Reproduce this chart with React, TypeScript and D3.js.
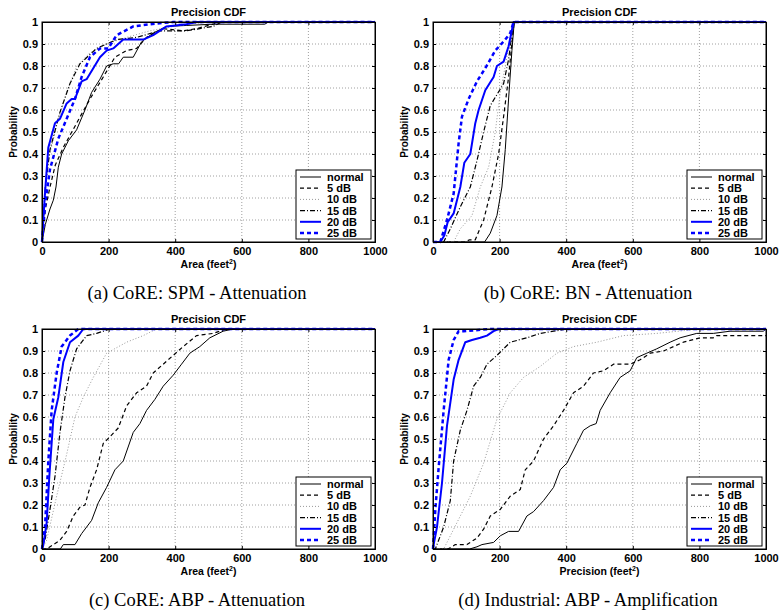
import React, { useEffect, useRef } from "react";
import * as d3 from "d3";

type Pt = [number, number];

// values: [area, probability]
const spmNormal: Pt[] = [[0,0],[10,0.08],[24,0.15],[34,0.19],[42,0.25],[49,0.34],[59,0.4],[79,0.46],[104,0.51],[129,0.6],[149,0.68],[174,0.74],[194,0.8],[214,0.81],[230,0.81],[244,0.84],[274,0.84],[299,0.91],[334,0.95],[374,0.98],[514,0.99],[669,0.99],[680,1],[1000,1]];
const spm5: Pt[] = [[0,0],[10,0.15],[24,0.25],[40,0.35],[64,0.43],[104,0.54],[144,0.65],[184,0.75],[219,0.84],[254,0.87],[284,0.88],[314,0.93],[364,0.97],[424,0.96],[464,0.97],[514,0.99],[530,1],[1000,1]];
const spm10: Pt[] = [[0,0],[14,0.34],[44,0.53],[74,0.68],[104,0.8],[144,0.86],[194,0.9],[254,0.93],[324,0.96],[394,0.98],[500,1],[1000,1]];
const spm15: Pt[] = [[0,0],[10,0.25],[24,0.42],[54,0.59],[84,0.72],[114,0.81],[164,0.88],[224,0.92],[284,0.93],[354,0.96],[434,0.96],[474,0.97],[514,0.98],[540,1],[1000,1]];
const spm20: Pt[] = [[0,0],[8,0.2],[19,0.43],[39,0.54],[54,0.56],[74,0.63],[89,0.65],[99,0.65],[119,0.73],[134,0.74],[154,0.79],[174,0.84],[194,0.87],[214,0.88],[244,0.92],[304,0.92],[334,0.94],[374,0.98],[434,0.99],[464,1],[1000,1]];
const spm25: Pt[] = [[0,0],[10,0.18],[24,0.33],[49,0.47],[74,0.56],[99,0.65],[119,0.75],[144,0.84],[174,0.88],[199,0.88],[224,0.94],[274,0.98],[324,0.99],[394,1],[1000,1]];

const bnNormal: Pt[] = [[0,0],[155,0],[172,0.04],[192,0.12],[207,0.25],[217,0.42],[227,0.65],[237,0.87],[244,1],[1000,1]];
const bn5: Pt[] = [[0,0],[95,0],[110,0.01],[127,0.01],[152,0.1],[177,0.25],[197,0.4],[212,0.57],[227,0.75],[240,0.95],[244,1],[1000,1]];
const bn10: Pt[] = [[0,0],[62,0],[82,0.06],[117,0.12],[142,0.25],[167,0.34],[187,0.5],[202,0.68],[217,0.8],[234,0.95],[242,1],[1000,1]];
const bn15: Pt[] = [[0,0],[32,0],[52,0.06],[82,0.16],[112,0.25],[132,0.37],[152,0.5],[172,0.62],[192,0.67],[212,0.72],[227,0.83],[240,0.98],[244,1],[1000,1]];
const bn20: Pt[] = [[0,0],[22,0],[34,0.03],[44,0.09],[62,0.13],[82,0.25],[94,0.36],[112,0.4],[127,0.54],[137,0.6],[157,0.69],[182,0.75],[192,0.8],[212,0.82],[227,0.89],[242,1],[1000,1]];
const bn25: Pt[] = [[0,0],[22,0],[42,0.1],[62,0.22],[77,0.45],[87,0.57],[107,0.65],[132,0.73],[157,0.79],[187,0.87],[217,0.92],[232,0.95],[242,1],[1000,1]];

const abpNormal: Pt[] = [[0,0],[55,0],[64,0.02],[99,0.02],[119,0.07],[134,0.1],[149,0.13],[169,0.21],[194,0.28],[219,0.36],[244,0.4],[274,0.53],[294,0.57],[314,0.63],[339,0.68],[364,0.74],[394,0.79],[419,0.84],[444,0.89],[474,0.92],[504,0.96],[544,0.99],[574,1],[1000,1]];
const abp5: Pt[] = [[0,0],[15,0],[24,0.01],[54,0.04],[74,0.08],[94,0.15],[114,0.19],[129,0.2],[144,0.28],[164,0.36],[184,0.48],[204,0.51],[229,0.55],[254,0.65],[284,0.71],[314,0.74],[334,0.8],[364,0.84],[394,0.88],[424,0.92],[464,0.97],[514,0.98],[554,1],[1000,1]];
const abp10: Pt[] = [[0,0],[14,0.04],[44,0.24],[74,0.43],[99,0.6],[124,0.69],[154,0.78],[194,0.89],[254,0.94],[304,0.97],[344,1],[1000,1]];
const abp15: Pt[] = [[0,0],[9,0.04],[24,0.18],[39,0.33],[54,0.53],[69,0.69],[84,0.81],[104,0.91],[134,0.97],[164,0.98],[204,1],[1000,1]];
const abp20: Pt[] = [[0,0],[4,0.02],[14,0.12],[22,0.33],[34,0.59],[49,0.69],[64,0.85],[84,0.94],[109,0.97],[124,1],[1000,1]];
const abp25: Pt[] = [[0,0],[9,0.1],[19,0.4],[29,0.63],[44,0.8],[59,0.92],[84,0.97],[109,1],[1000,1]];

const indNormal: Pt[] = [[0,0],[110,0],[132,0.01],[147,0.02],[182,0.03],[202,0.06],[227,0.08],[257,0.08],[282,0.15],[302,0.17],[332,0.22],[362,0.28],[382,0.36],[402,0.39],[432,0.48],[452,0.54],[472,0.56],[490,0.57],[502,0.63],[532,0.71],[562,0.78],[592,0.81],[612,0.87],[642,0.89],[672,0.91],[712,0.94],[742,0.96],[792,0.98],[842,0.98],[892,0.99],[992,0.99],[1000,1]];
const ind5: Pt[] = [[0,0],[45,0],[67,0.02],[102,0.02],[132,0.05],[152,0.09],[172,0.15],[202,0.18],[232,0.24],[262,0.27],[277,0.36],[302,0.4],[332,0.5],[362,0.56],[392,0.63],[422,0.71],[452,0.74],[482,0.8],[512,0.81],[542,0.84],[592,0.84],[622,0.86],[652,0.89],[692,0.9],[722,0.92],[752,0.94],[802,0.96],[842,0.96],[852,0.97],[1000,0.97]];
const ind10: Pt[] = [[0,0],[32,0],[72,0.12],[112,0.24],[152,0.39],[192,0.59],[232,0.71],[272,0.78],[322,0.83],[372,0.89],[422,0.92],[492,0.94],[572,0.97],[672,0.98],[800,1],[1000,1]];
const ind15: Pt[] = [[0,0],[7,0],[32,0.1],[52,0.22],[62,0.4],[82,0.54],[102,0.63],[122,0.74],[142,0.78],[162,0.84],[192,0.88],[232,0.94],[282,0.96],[322,0.98],[362,0.99],[402,1],[1000,1]];
const ind20: Pt[] = [[0,0],[2,0.02],[12,0.1],[27,0.3],[42,0.56],[62,0.77],[77,0.86],[97,0.94],[117,0.95],[142,0.96],[162,0.97],[182,0.99],[197,1],[1000,1]];
const ind25: Pt[] = [[0,0],[7,0.18],[17,0.37],[32,0.63],[47,0.86],[62,0.95],[77,0.99],[92,0.99],[172,1],[1000,1]];

const seriesNames = ["normal", "5 dB", "10 dB", "15 dB", "20 dB", "25 dB"];
const xTicks = [0, 200, 400, 600, 800, 1000];
const yTicks = [0, 0.1, 0.2, 0.3, 0.4, 0.5, 0.6, 0.7, 0.8, 0.9, 1];

const lineStyles = [
  { color: "#000", width: 1, dash: null },
  { color: "#000", width: 1.2, dash: "4,3" },
  { color: "#999", width: 1, dash: "1,2" },
  { color: "#000", width: 1.2, dash: "5,2,1,2" },
  { color: "#0000ff", width: 2, dash: null },
  { color: "#0000ff", width: 2.5, dash: "4,3" },
];

const panels = [
  { left: 42, top: 22, xLabel: "Area", caption: "(a) CoRE: SPM - Attenuation", series: [spmNormal, spm5, spm10, spm15, spm20, spm25] },
  { left: 433, top: 22, xLabel: "Area", caption: "(b) CoRE: BN - Attenuation", series: [bnNormal, bn5, bn10, bn15, bn20, bn25] },
  { left: 42, top: 329, xLabel: "Area", caption: "(c) CoRE: ABP - Attenuation", series: [abpNormal, abp5, abp10, abp15, abp20, abp25] },
  { left: 433, top: 329, xLabel: "Precision", caption: "(d) Industrial: ABP - Amplification", series: [indNormal, ind5, ind10, ind15, ind20, ind25] },
];

const W = 333;
const H = 220;
const sans = "'Liberation Sans', Arial, sans-serif";

const App = () => {
  const ref = useRef<SVGSVGElement>(null);

  useEffect(() => {
    const svg = d3.select(ref.current);
    svg.selectAll("*").remove();

    const x = d3.scaleLinear().domain([0, 1000]).range([0, W]);
    const y = d3.scaleLinear().domain([0, 1]).range([H, 0]);
    const line = d3.line<Pt>().x((d) => x(d[0])).y((d) => y(d[1]));

    panels.forEach((p) => {
      const g = svg.append("g").attr("transform", `translate(${p.left},${p.top})`);

      // grid
      g.selectAll(".gx").data(xTicks.slice(1, -1)).enter().append("line")
        .attr("x1", (d) => x(d)).attr("x2", (d) => x(d)).attr("y1", 0).attr("y2", H)
        .attr("stroke", "#888").attr("stroke-width", 0.8).attr("stroke-dasharray", "1,2");
      g.selectAll(".gy").data(yTicks.slice(1, -1)).enter().append("line")
        .attr("x1", 0).attr("x2", W).attr("y1", (d) => y(d)).attr("y2", (d) => y(d))
        .attr("stroke", "#888").attr("stroke-width", 0.8).attr("stroke-dasharray", "1,2");

      // curves
      p.series.forEach((s, i) => {
        const st = lineStyles[i];
        g.append("path").datum(s).attr("d", line).attr("fill", "none")
          .attr("stroke", st.color).attr("stroke-width", st.width)
          .attr("stroke-dasharray", st.dash).attr("stroke-linejoin", "round");
      });

      // axes
      const xAxis = g.append("g").attr("transform", `translate(0,${H})`)
        .call(d3.axisBottom(x).tickValues(xTicks).tickSize(-3).tickPadding(5).tickFormat(d3.format("d")));
      const yAxis = g.append("g")
        .call(d3.axisLeft(y).tickValues(yTicks).tickSize(-3).tickPadding(4).tickFormat((d) => d3.format("~g")(d as number)));
      g.append("g").call(d3.axisTop(x).tickValues(xTicks).tickSize(-3).tickFormat(() => ""));
      g.append("g").attr("transform", `translate(${W},0)`).call(d3.axisRight(y).tickValues(yTicks).tickSize(-3).tickFormat(() => ""));
      [xAxis, yAxis].forEach((a) => a.selectAll("text").style("font-family", sans).style("font-weight", "bold").style("font-size", "11px").attr("fill", "#000"));
      g.selectAll(".domain").attr("stroke", "#000");
      g.append("rect").attr("width", W).attr("height", H).attr("fill", "none").attr("stroke", "#000");

      // labels
      g.append("text").attr("x", W / 2).attr("y", -6).attr("text-anchor", "middle")
        .style("font-family", sans).style("font-weight", "bold").style("font-size", "11px").text("Precision CDF");
      const xl = g.append("text").attr("x", W / 2).attr("y", H + 26).attr("text-anchor", "middle")
        .style("font-family", sans).style("font-weight", "bold").style("font-size", "10.5px");
      xl.append("tspan").text(`${p.xLabel} (feet`);
      xl.append("tspan").attr("dy", -4).style("font-size", "7px").text("2");
      xl.append("tspan").attr("dy", 4).text(")");
      g.append("text").attr("transform", `translate(-25,${H / 2}) rotate(-90)`).attr("text-anchor", "middle")
        .style("font-family", sans).style("font-weight", "bold").style("font-size", "10px").text("Probability");
      g.append("text").attr("x", 155).attr("y", H + 57).attr("text-anchor", "middle")
        .style("font-family", "'Liberation Serif', 'Times New Roman', serif").style("font-size", "18.5px").text(p.caption);

      // legend
      const lg = g.append("g").attr("transform", `translate(${W - 79},${H - 72})`);
      lg.append("rect").attr("width", 75).attr("height", 69).attr("fill", "#fff").attr("stroke", "#000");
      seriesNames.forEach((name, i) => {
        const st = lineStyles[i];
        const ly = 7 + i * 11.2;
        lg.append("line").attr("x1", 4).attr("x2", 25).attr("y1", ly).attr("y2", ly)
          .attr("stroke", st.color).attr("stroke-width", st.width).attr("stroke-dasharray", st.dash);
        lg.append("text").attr("x", 31).attr("y", ly + 4)
          .style("font-family", sans).style("font-weight", "bold").style("font-size", "11px").text(name);
      });
    });
  }, []);

  return <svg ref={ref} width={779} height={616} style={{ position: "absolute", left: 0, top: 0, background: "#fff" }} />;
};

export default App;
